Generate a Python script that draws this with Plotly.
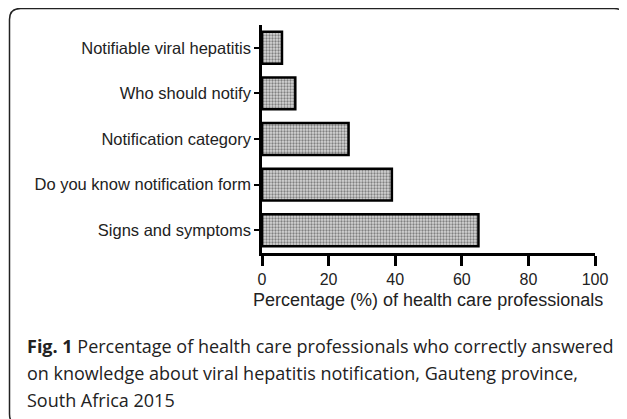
import plotly.graph_objects as go

categories = ["Signs and symptoms", "Do you know notification form", "Notification category",
              "Who should notify", "Notifiable viral hepatitis"]
percentages = [65, 39, 26, 10, 6]
x_ticks = [0, 20, 40, 60, 80, 100]

caption_lines = [
    "<b>Fig. 1</b> Percentage of health care professionals who correctly answered",
    "on knowledge about viral hepatitis notification, Gauteng province,",
    "South Africa 2015",
]

# the page body adds an 8px margin, so the figure is drawn 8px smaller and
# all screen positions below are shifted back by OFF
OFF = 8
W, H = 627 - OFF, 419 - OFF
L, R, T, B = 262 - OFF, 32, 25 - OFF, 166
pw, ph = W - L - R, H - T - B


def px(x):
    return (x - OFF - L) / pw


def py(y):
    return (H - B - (y - OFF)) / ph


fig = go.Figure()
fig.add_trace(go.Bar(
    x=percentages, y=categories, orientation="h", width=0.7,
    marker=dict(color="#999999", line=dict(color="black", width=2.5),
                pattern=dict(shape=".", size=3, solidity=0.45, fgcolor="#2a2a2a", bgcolor="#d6d6d6")),
    showlegend=False,
))

fig.update_layout(
    width=W, height=H,
    margin=dict(l=L, r=R, t=T, b=B),
    plot_bgcolor="white", paper_bgcolor="white",
    font=dict(family="Liberation Sans, Arial", color="#222"),
    xaxis=dict(range=[0, 100], tickvals=x_ticks, showgrid=False, zeroline=False,
               showline=True, linecolor="black", linewidth=2.5,
               ticks="outside", ticklen=10, tickwidth=2.5, tickcolor="black",
               tickfont=dict(size=16, color="#222")),
    yaxis=dict(categoryorder="array", categoryarray=categories, range=[-0.5, 4.5],
               showgrid=False, zeroline=False,
               showline=True, linecolor="black", linewidth=2.5,
               ticks="outside", ticklen=5, tickwidth=2, tickcolor="black",
               tickfont=dict(size=16.5, color="#222")),
)

# axis title
fig.add_annotation(text="Percentage (%) of health care professionals", xref="paper", yref="paper",
                   x=px(428), y=py(312), showarrow=False, font=dict(size=18, color="#222"))

# caption
for i, line in enumerate(caption_lines):
    fig.add_annotation(text=line, xref="paper", yref="paper", x=px(25), y=py(346 + 27 * i),
                       xanchor="left", yanchor="middle", showarrow=False,
                       font=dict(family="Open Sans", size=18, color="#222"))

# rounded frame
x0, x1, y0, y1, r = 9.5, 625, 8.5, 425, 11
path = (f"M {px(x0 + r)},{py(y0)} L {px(x1 - r)},{py(y0)} Q {px(x1)},{py(y0)} {px(x1)},{py(y0 + r)} "
        f"L {px(x1)},{py(y1 - r)} Q {px(x1)},{py(y1)} {px(x1 - r)},{py(y1)} "
        f"L {px(x0 + r)},{py(y1)} Q {px(x0)},{py(y1)} {px(x0)},{py(y1 - r)} "
        f"L {px(x0)},{py(y0 + r)} Q {px(x0)},{py(y0)} {px(x0 + r)},{py(y0)} Z")
fig.add_shape(type="path", path=path, xref="paper", yref="paper",
              line=dict(color="#222", width=1.5), layer="below")

fig.write_html("out.html")
